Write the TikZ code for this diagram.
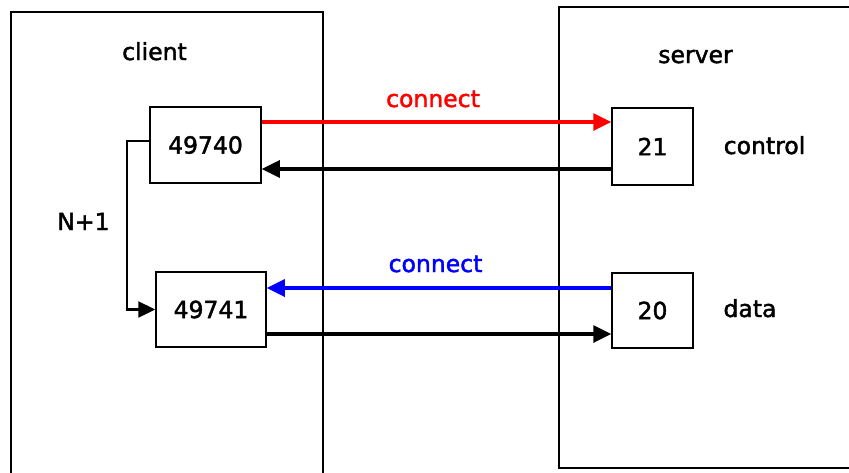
\documentclass[tikz,border=0pt]{standalone}
\usepackage{fontspec}
\setmainfont[BoldFont={DejaVu Sans}, BoldFeatures={FakeBold=1.8}]{DejaVu Sans}
\usetikzlibrary{arrows.meta}

\begin{document}
\begin{tikzpicture}[x=1pt, y=-1pt,
	side/.style = {draw, line width=1.5pt},
	port/.style = {draw, line width=1.5pt, inner sep=0pt, minimum height=76pt, font=\fontsize{23.5}{28}\selectfont\bfseries},
	word/.style = {anchor=base, inner sep=0pt, font=\fontsize{23.5}{28}\selectfont\bfseries},
	wire/.style = {line width=3.4pt, -{Triangle[length=18pt,width=17pt]}},
	link/.style = {line width=2.4pt, -{Triangle[length=17pt,width=16pt]}}]
				\useasboundingbox (0,0) rectangle (849,472);
				\clip (0,0) rectangle (849,472);
				% hosts
				\draw[side] (11,12) rectangle (323,490);
				\draw[side] (559,7) rectangle (870,468);
				\node[word] (client) at (154.5,60) {client};
				\node[word] (server) at (695.5,63) {server};
				% ports
				\node[port, minimum width=111pt] (c0) at (205.5,145) {49740};
				\node[port, minimum width=110pt, minimum height=75pt] (c1) at (211,309.5) {49741};
				\node[port, minimum width=81pt, minimum height=77pt] (s0) at (652.5,146.5) {21};
				\node[port, minimum width=81pt, minimum height=75pt] (s1) at (652.5,310.5) {20};
				\node[word] (control) at (764.5,154) {control};
				\node[word] (data) at (750,317) {data};
				\node[word] (n1) at (83.5,230) {N+1};
				\node[word, red] (cred) at (433,107) {connect};
				\node[word, blue] (cblue) at (435.5,272) {connect};
				% wires
				\coordinate (h0) at (0,122);
				\coordinate (h1) at (0,169);
				\coordinate (h2) at (0,288);
				\coordinate (h3) at (0,334);
				\draw[wire, red] (c0.east |- h0) -- (s0.west |- h0);
				\draw[wire] (s0.west |- h1) -- (c0.east |- h1);
				\draw[wire, blue] (s1.west |- h2) -- (c1.east |- h2);
				\draw[wire] (c1.east |- h3) -- (s1.west |- h3);
				\draw[link] ([yshift=4pt]c0.west) -- ++(-22,0) |- (c1.west);
			\end{tikzpicture}
\end{document}
